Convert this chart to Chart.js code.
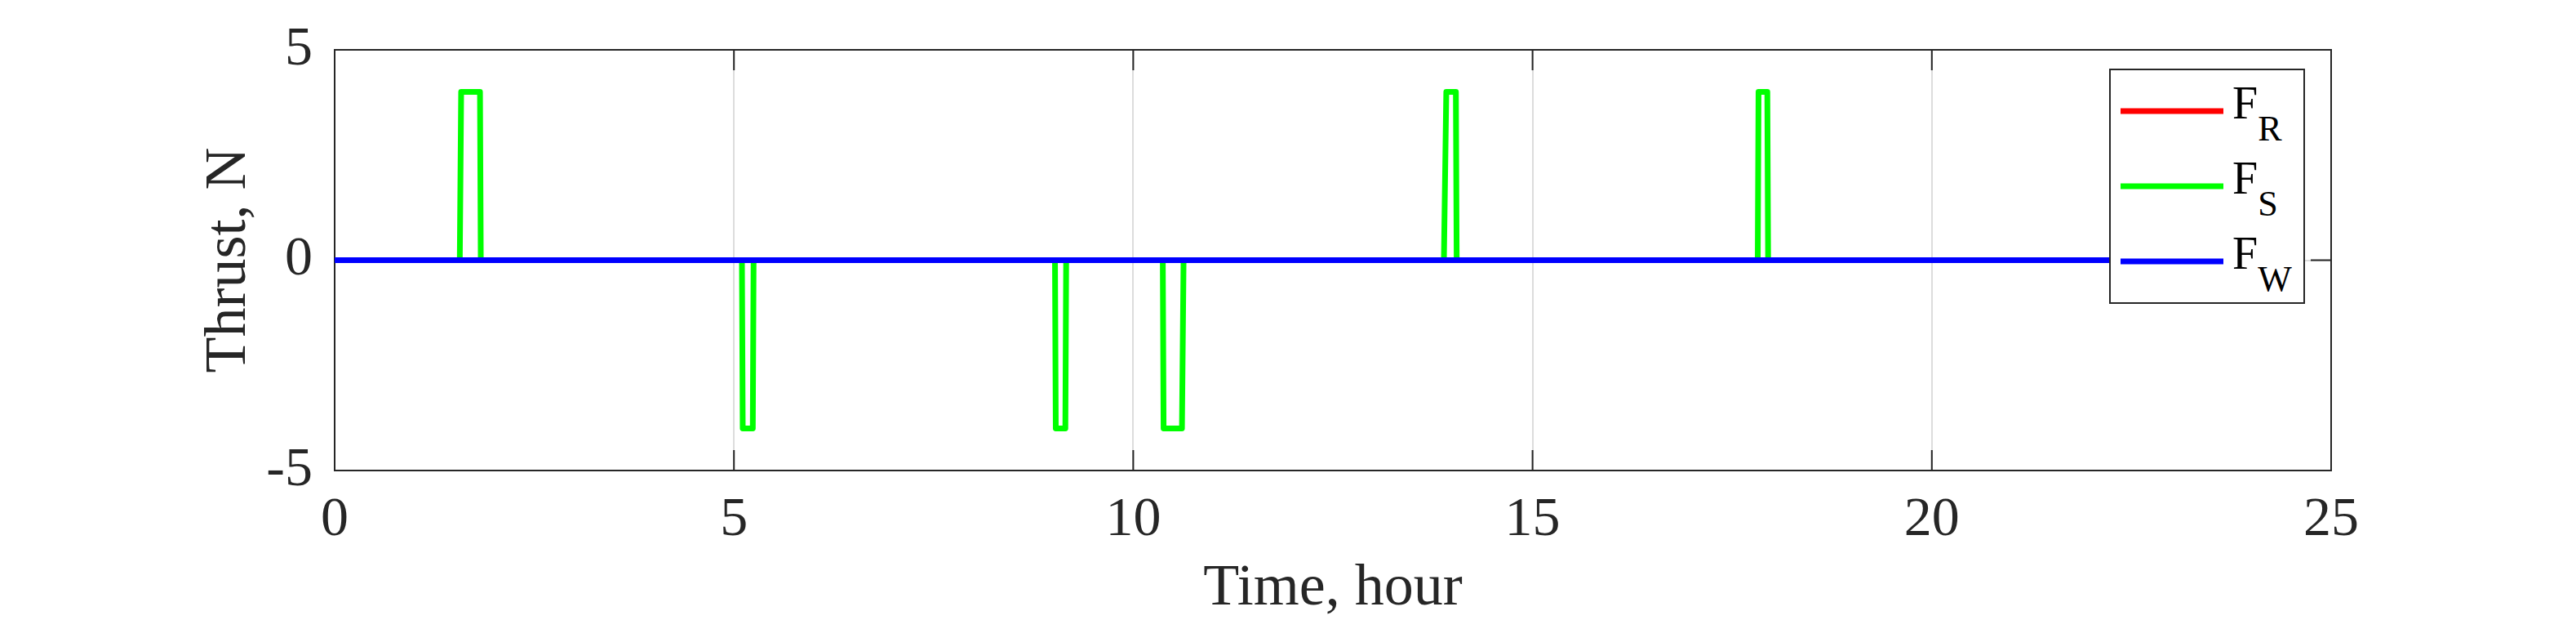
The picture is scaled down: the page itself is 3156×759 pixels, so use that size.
<!DOCTYPE html>
<html lang="en">
<head>
  <meta charset="UTF-8" />
  <title>Thrust vs time</title>
  <script src="https://cdn.jsdelivr.net/npm/chart.js"></script>
  <style>
    body { margin: 0; background: #fff; }
    #wrap { position: relative; width: 3156px; height: 759px; }
    #legend { position: absolute; left: 0; top: 0; pointer-events: none; }
  </style>
</head>
<body>
  <div id="wrap">
    <canvas id="thrustChart" width="3156" height="759"></canvas>
    <svg id="legend" width="3156" height="759" font-family="'Liberation Serif', 'Times New Roman', serif" fill="#000">
      <rect x="2585" y="85" width="238" height="286" fill="#fff" stroke="#262626" stroke-width="2" />
      <line x1="2598" y1="136" x2="2724" y2="136" stroke="#ff0000" stroke-width="7" />
      <line x1="2598" y1="228" x2="2724" y2="228" stroke="#00ff00" stroke-width="7" />
      <line x1="2598" y1="320" x2="2724" y2="320" stroke="#0000ff" stroke-width="7" />
      <text x="2735" y="145" font-size="56">F<tspan dy="27" font-size="44">R</tspan></text>
      <text x="2735" y="237" font-size="56">F<tspan dy="27" font-size="44">S</tspan></text>
      <text x="2735" y="329" font-size="56">F<tspan dy="27" font-size="44">W</tspan></text>
    </svg>
  </div>

  <script>
    // thruster timings (hours) and thrust levels (N)
    const timeS   = [0, 1.567, 1.584, 1.82, 1.83, 5.10, 5.11, 5.236, 5.246, 9.02, 9.03, 9.15, 9.16,
                     10.37, 10.38, 10.61, 10.63, 13.89, 13.92, 14.04, 14.05, 17.82, 17.83, 17.94, 17.95, 24];
    const thrustS = [0, 0, 4, 4, 0, 0, -4, -4, 0, 0, -4, -4, 0,
                     0, -4, -4, 0, 0, 4, 4, 0, 0, 4, 4, 0, 0];
    const timeR   = [0, 24];
    const thrustR = [0, 0];
    const timeW   = [0, 24];
    const thrustW = [0, 0];
    const xTicks  = [0, 5, 10, 15, 20, 25];
    const yTicks  = [-5, 0, 5];

    const axisColor = '#262626';
    const serif = "'Liberation Serif', 'Times New Roman', serif";

    const toPoints = (t, v) => t.map((x, i) => ({ x: x, y: v[i] }));

    // box round the axes with inward ticks, like the original figure
    const framePlugin = {
      id: 'frame',
      beforeDatasetsDraw(chart) {
        const { ctx, chartArea: a, scales: { x, y } } = chart;
        const len = 25;
        ctx.save();
        ctx.strokeStyle = axisColor;
        ctx.lineWidth = 2;
        ctx.strokeRect(a.left, a.top, a.right - a.left, a.bottom - a.top);
        ctx.beginPath();
        xTicks.forEach(v => {
          const px = x.getPixelForValue(v);
          ctx.moveTo(px, a.bottom); ctx.lineTo(px, a.bottom - len);
          ctx.moveTo(px, a.top); ctx.lineTo(px, a.top + len);
        });
        yTicks.forEach(v => {
          const py = y.getPixelForValue(v);
          ctx.moveTo(a.left, py); ctx.lineTo(a.left + len, py);
          ctx.moveTo(a.right, py); ctx.lineTo(a.right - len, py);
        });
        ctx.stroke();
        ctx.restore();
      }
    };

    const lineStyle = { pointRadius: 0, borderWidth: 7, tension: 0, fill: false,
                        borderJoinStyle: 'round', borderCapStyle: 'butt' };

    new Chart(document.getElementById('thrustChart').getContext('2d'), {
      type: 'line',
      data: {
        datasets: [
          { label: 'F_W', data: toPoints(timeW, thrustW), borderColor: '#0000ff', order: 0, ...lineStyle },
          { label: 'F_S', data: toPoints(timeS, thrustS), borderColor: '#00ff00', order: 1, ...lineStyle },
          { label: 'F_R', data: toPoints(timeR, thrustR), borderColor: '#ff0000', order: 2, ...lineStyle }
        ]
      },
      options: {
        responsive: false,
        animation: false,
        devicePixelRatio: 1,
        layout: { padding: { left: 245, right: 300, top: 57, bottom: 0 } },
        plugins: { legend: { display: false }, tooltip: { enabled: false } },
        scales: {
          x: {
            type: 'linear', min: 0, max: 25,
            afterBuildTicks: s => { s.ticks = xTicks.map(v => ({ value: v })); },
            afterFit: s => { s.height = 183; },
            border: { display: false },
            grid: { color: '#dcdcdc', lineWidth: 2, drawTicks: false },
            ticks: { padding: 27, color: axisColor, font: { family: serif, size: 68, lineHeight: 1 } },
            title: { display: true, text: 'Time, hour', color: axisColor,
                     padding: { top: 0, bottom: 2 }, font: { family: serif, size: 72, lineHeight: 1 } }
          },
          y: {
            type: 'linear', min: -5, max: 5,
            afterBuildTicks: s => { s.ticks = yTicks.map(v => ({ value: v })); },
            afterFit: s => { s.width = 165; },
            border: { display: false },
            grid: { color: '#dcdcdc', lineWidth: 2, drawTicks: false },
            ticks: { padding: 27, color: axisColor, font: { family: serif, size: 68, lineHeight: 1 } },
            title: { display: true, text: 'Thrust, N', color: axisColor,
                     padding: { top: 0, bottom: 0 }, font: { family: serif, size: 72, lineHeight: 1 } }
          }
        }
      },
      plugins: [framePlugin]
    });
  </script>
</body>
</html>
